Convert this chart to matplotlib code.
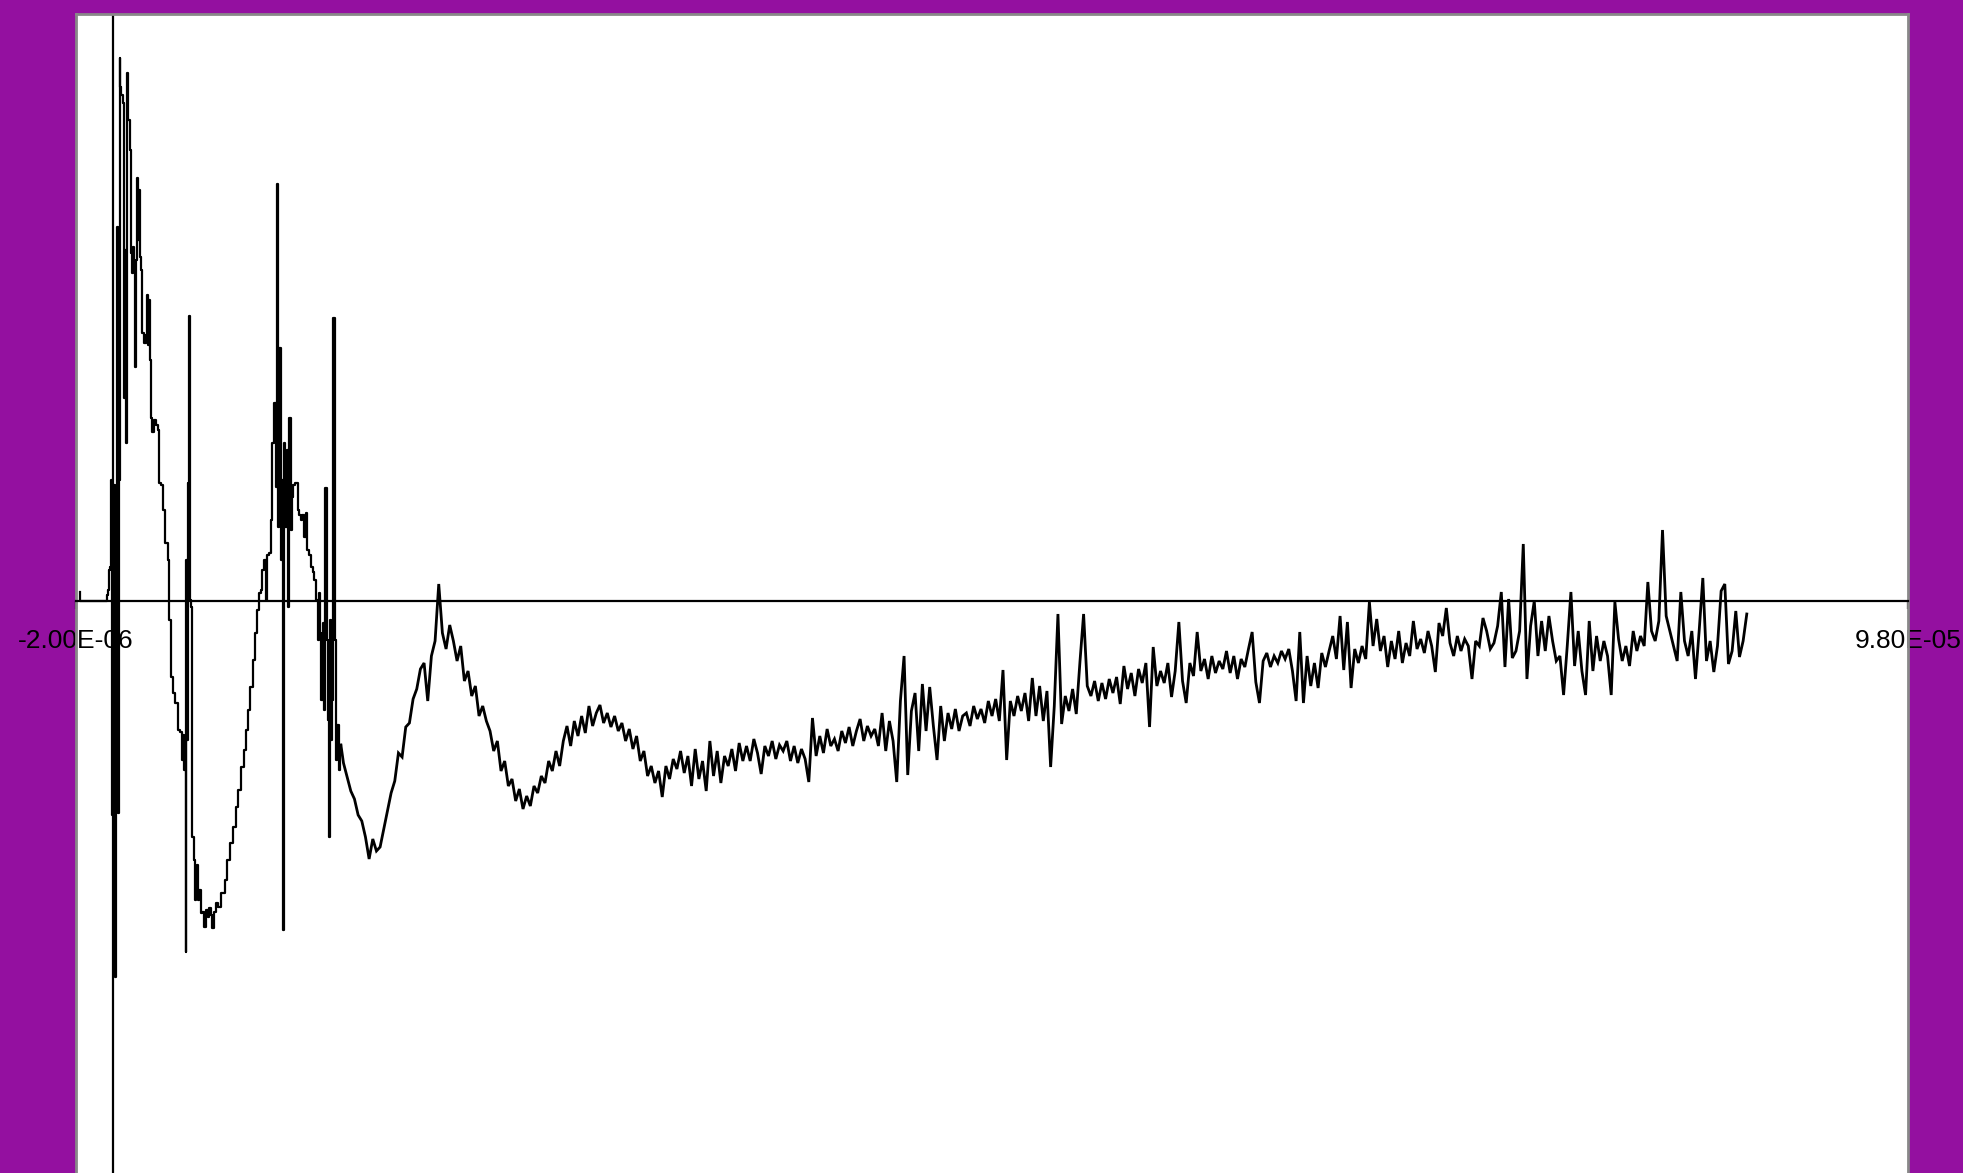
import numpy as np
import matplotlib

matplotlib.use('Agg')
import matplotlib.pyplot as plt

plt.rcParams['font.family'] = ['Liberation Sans', 'DejaVu Sans']

# --- trace data -------------------------------------------------------------
# first ~12.5 us read point by point (the spikes are single samples)
head_t_us = [
    -1.80, -1.76, -0.35, -0.31, -0.25, -0.17, -0.14, -0.09, -0.03, 0.02,
    0.08, 0.11, 0.17, 0.20, 0.24, 0.28, 0.33, 0.38, 0.40, 0.44,
    0.51, 0.59, 0.63, 0.68, 0.73, 0.82, 0.90, 0.99, 1.00, 1.06,
    1.13, 1.20, 1.26, 1.30, 1.35, 1.39, 1.44, 1.50, 1.53, 1.60,
    1.64, 1.77, 1.82, 1.89, 1.93, 1.99, 2.04, 2.08, 2.13, 2.21,
    2.31, 2.42, 2.49, 2.59, 2.70, 2.81, 2.95, 3.04, 3.13, 3.23,
    3.31, 3.50, 3.59, 3.77, 3.82, 3.86, 3.92, 3.97, 4.01, 4.04,
    4.09, 4.13, 4.19, 4.24, 4.32, 4.39, 4.44, 4.50, 4.58, 4.65,
    4.69, 4.77, 4.86, 4.95, 5.04, 5.15, 5.22, 5.32, 5.41, 5.48,
    5.56, 5.68, 5.77, 5.86, 5.95, 6.04, 6.19, 6.32, 6.50, 6.68,
    6.77, 6.95, 7.10, 7.23, 7.32, 7.46, 7.59, 7.72, 7.83, 7.95,
    8.05, 8.13, 8.23, 8.32, 8.38, 8.45, 8.59, 8.68, 8.77, 8.86,
    8.95, 9.01, 9.06, 9.13, 9.21, 9.29, 9.33, 9.39, 9.46, 9.54,
    9.61, 9.68, 9.74, 9.79, 9.86, 10.05, 10.14, 10.23, 10.32, 10.39,
    10.50, 10.59, 10.68, 10.78, 10.87, 10.96, 11.05, 11.17, 11.24, 11.28,
    11.36, 11.43, 11.50, 11.57, 11.65, 11.72, 11.78, 11.82, 11.86, 11.95,
    12.00, 12.09, 12.16, 12.22, 12.30, 12.41, 12.46,
]
head_amp = [
    9, 0, 0, 6, 11, 31, 34, 121, -214, 111,
    -209, 116, -376, 101, -199, 374, -212, 121, 543, 514,
    506, 498, 203, 351, 158, 528, 481, 451, 348, 328,
    354, 331, 234, 341, 423, 361, 411, 351, 344, 331,
    268, 258, 266, 306, 256, 301, 246, 241, 183, 169,
    181, 176, 171, 118, 116, 91, 58, 41, -19, -76,
    -92, -102, -129, -131, -159, -134, -169, -139, -351, 41,
    -139, 118, 285, 1, -6, -236, -259, -299, -289, -264,
    -299, -289, -312, -311, -326, -309, -316, -307, -314, -327,
    -311, -302, -306, -306, -292, -292, -279, -259, -242, -226,
    -206, -189, -166, -149, -129, -109, -86, -59, -32, -9,
    8, 11, 31, 41, 1, 46, 48, 81, 158, 198,
    114, 417, 74, 253, 41, 121, -329, 158, 74, 151,
    -6, 183, 71, 104, 116, 118, 91, 86, 81, 86,
    64, 88, 51, 46, 34, 29, 21, 1, -39, 8,
    -32, -99, -22, -109, 113, -39, -119, -236, -19, -139,
    -99, 283, -39, -159, -124, -169, -144,
]

# rest of the trace, one reading every 0.2 us
tail_t0_us = 12.6
tail_dt_us = 0.2
tail_amp = [
    -162, -176, -190, -198, -214, -220, -236, -258, -238, -250,
    -246, -228, -210, -192, -180, -152, -156, -126, -122, -98,
    -88, -68, -62, -100, -55, -40, 17, -32, -48, -24,
    -40, -60, -45, -80, -70, -95, -85, -115, -105, -120,
    -130, -150, -140, -170, -160, -185, -178, -200, -188, -208,
    -195, -205, -185, -192, -175, -182, -160, -170, -150, -165,
    -140, -125, -145, -120, -135, -115, -132, -105, -125, -112,
    -104, -122, -112, -126, -115, -130, -122, -140, -128, -148,
    -135, -160, -150, -175, -165, -182, -170, -196, -165, -178,
    -158, -168, -150, -172, -155, -185, -148, -178, -160, -190,
    -140, -175, -150, -182, -155, -165, -148, -170, -142, -160,
    -145, -160, -138, -152, -173, -145, -155, -140, -158, -144,
    -150, -140, -160, -145, -162, -148, -158, -181, -117, -155,
    -135, -152, -128, -145, -138, -150, -130, -142, -126, -145,
    -130, -118, -140, -125, -135, -128, -145, -112, -150, -120,
    -140, -181, -100, -55, -174, -110, -92, -150, -83, -130,
    -86, -125, -159, -105, -140, -112, -128, -108, -130, -115,
    -112, -125, -105, -118, -108, -122, -100, -115, -98, -120,
    -69, -159, -100, -115, -95, -110, -92, -120, -77, -115,
    -85, -120, -90, -166, -105, -13, -123, -95, -110, -88,
    -113, -61, -13, -85, -95, -80, -100, -82, -98, -78,
    -92, -76, -103, -65, -88, -72, -95, -68, -82, -62,
    -126, -46, -85, -70, -82, -62, -96, -70, -21, -80,
    -102, -62, -75, -31, -70, -58, -78, -55, -72, -60,
    -68, -50, -72, -55, -78, -58, -66, -48, -31, -81,
    -102, -60, -52, -66, -55, -62, -50, -58, -48, -70,
    -100, -31, -102, -55, -85, -62, -87, -52, -66, -50,
    -35, -58, -15, -69, -21, -87, -48, -62, -45, -58,
    -1, -45, -18, -50, -35, -66, -40, -58, -30, -62,
    -42, -55, -20, -48, -38, -52, -30, -45, -71, -22,
    -35, -7, -42, -55, -35, -50, -38, -45, -78, -40,
    -45, -17, -30, -48, -42, -25, 9, -66, 2, -57,
    -50, -30, 57, -78, -25, 0, -55, -20, -50, -15,
    -40, -60, -55, -94, -45, 9, -65, -30, -70, -94,
    -20, -70, -35, -60, -40, -55, -94, -1, -38, -60,
    -45, -65, -30, -50, -35, -45, 19, -30, -40, -20,
    71, -15, -30, -45, -60, 9, -40, -55, -30, -78,
    -30, 23, -60, -40, -71, -45, 10, 17, -63, -50,
    -10, -56, -40, -13,
]

# axis range and the two end labels
x_min, x_max = -2.0e-06, 9.8e-05
y_min, y_max = -572, 587
x_tick_labels = ['-2.00E-06', '9.80E-05']

# --- build ------------------------------------------------------------------
head_t = np.array(head_t_us) * 1e-6
head_v = np.array(head_amp, dtype=float)
# tail starts from the last head sample so the trace stays joined
tail_t = np.concatenate([[head_t_us[-1]],
                         tail_t0_us + tail_dt_us * np.arange(len(tail_amp))]) * 1e-6
tail_v = np.array([head_amp[-1]] + tail_amp, dtype=float)

W, H = 1963, 1173
fig = plt.figure(figsize=(W / 100, H / 100), dpi=100, facecolor='#9410a0')
ax = fig.add_axes([76 / W, 0, 1832 / W, 1159 / H])
ax.set_facecolor('white')

# scope style: held samples in the fast part, dense noise after
ax.plot(head_t, head_v, color='black', lw=1.6, drawstyle='steps-mid')
ax.plot(tail_t, tail_v, color='black', lw=2.0, solid_joinstyle='miter')
ax.axvline(0, color='black', lw=1.6)

ax.set_xlim(x_min, x_max)
ax.set_ylim(y_min, y_max)

# zero line is the x axis itself
ax.spines['bottom'].set_position(('data', 0))
ax.spines['bottom'].set_color('black')
ax.spines['bottom'].set_linewidth(1.6)
for side in ('left', 'top', 'right'):
    ax.spines[side].set_color('#888888')
    ax.spines[side].set_linewidth(2)

ax.set_xticks([x_min, x_max], x_tick_labels)
ax.set_yticks([])
ax.tick_params(axis='x', direction='out', length=6, width=1.6, pad=14,
               labelsize=19, labelcolor='black', color='black')

fig.savefig('out.png', dpi=100, facecolor=fig.get_facecolor())
